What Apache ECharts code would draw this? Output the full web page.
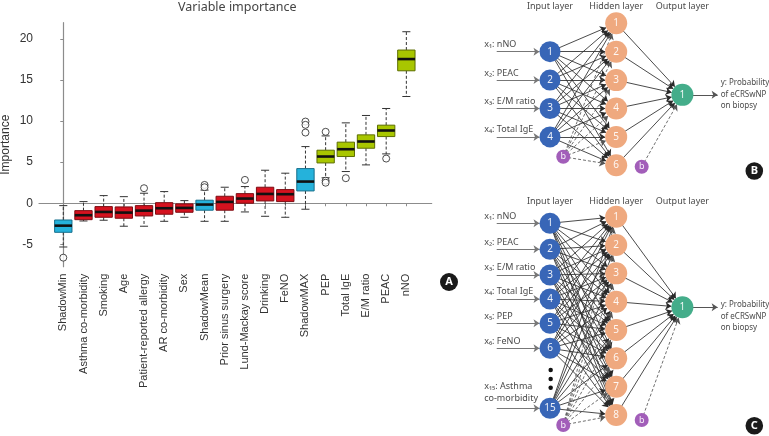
<!DOCTYPE html>
<html><head><meta charset="utf-8">
<script src="https://cdn.jsdelivr.net/npm/echarts@6/dist/echarts.min.js"></script>
<style>html,body{margin:0;padding:0;background:#fff}#c{width:769px;height:436px}</style>
</head><body><div id="c"></div>
<script>
// ---------- Panel A: variable importance boxplot ----------
const categories = ['ShadowMin','Asthma co-morbidity','Smoking','Age','Patient-reported allergy','AR co-morbidity','Sex','ShadowMean','Prior sinus surgery','Lund-Mackay score','Drinking','FeNO','ShadowMAX','PEP','Total IgE','E/M ratio','PEAC','nNO'];
const groups = ['shadow','rejected','rejected','rejected','rejected','rejected','rejected','shadow','rejected','rejected','rejected','rejected','shadow','confirmed','confirmed','confirmed','confirmed','confirmed'];
const whiskerLow  = [-5.33,-2.16,-2.07,-2.8,-2.8,-2.2,-1.71,-2.2,-2.2,-1.06,-1.59,-1.71,-0.73,3.1,3.86,4.67,6.01,13.0];
const q1          = [-3.54,-2.0,-1.71,-1.83,-1.55,-1.34,-1.1,-0.85,-0.85,0.0,0.28,0.2,1.5,4.91,5.69,6.7,8.12,16.13];
const median      = [-2.73,-1.46,-1.06,-1.14,-0.9,-0.61,-0.57,-0.16,0.16,0.57,1.13,1.1,2.64,5.69,6.58,7.52,8.86,17.56];
const q3          = [-2.04,-0.9,-0.41,-0.45,-0.29,0.07,-0.08,0.37,0.85,1.17,1.95,1.66,4.22,6.46,7.44,8.33,9.51,18.66];
const whiskerHigh = [-0.29,0.2,0.93,0.8,1.22,1.42,0.32,1.6,1.95,2.03,4.02,3.66,6.9,8.2,9.79,10.69,11.54,20.89];
const outliers = [[0,-6.63],[4,1.83],[7,2.23],[7,1.95],[9,2.84],[12,9.95],[12,9.55],[12,8.61],[13,8.7],[13,2.75],[13,2.5],[14,3.05],[16,5.44]];
const yTicks = [-5,0,5,10,15,20];
const groupColors = {shadow:'#25b2db', rejected:'#d5121f', confirmed:'#a8c600'};
const groupBorders = {shadow:'#176f8c', rejected:'#7d0c12', confirmed:'#5d6e00'};

// ---------- Panels B & C: network structure ----------
const headerNames = ['Input layer','Hidden layer','Output layer'];
const outputText = 'y: Probability\nof eCRSwNP\non biopsy';
// Panel B
const bInputRows = [1,2,3,4];
const bInputNames = ['1','2','3','4'];
const bInputLabels = ['x\u2081: nNO','x\u2082: PEAC','x\u2083: E/M ratio','x\u2084: Total IgE'];
const bHiddenRows = [0,1,2,3,4,5];
const bOutputRow = 2.52;
const bBias = [[0.2,4.7],[1.385,5.05]];
const bHeaderRow = -0.61;
// Panel C
const cInputRows = [0.233,1.151,2.058,2.905,3.763,4.645,6.763];
const cInputNames = ['1','2','3','4','5','6','15'];
const cInputLabels = ['x\u2081: nNO','x\u2082: PEAC','x\u2083: E/M ratio','x\u2084: Total IgE','x\u2085: PEP','x\u2086: FeNO','x\u2081\u2085: Asthma\nco-morbidity'];
const cHiddenRows = [0,1,2,3,4,5,6,7];
const cOutputRow = 3.198;
const cBias = [[0.2,7.353],[1.385,7.176]];
const cHeaderRow = -0.53;
const cDotRows = [5.411,5.729,6.036];

const nodeColors = {input:'#3866b7', hidden:'#efa97f', output:'#44ad8a', bias:'#a25eb9'};
const FONT = 'Noto Sans';

function buildNet(p, inputRows, inputNames, inputLabels, hiddenRows, outputRow, bias, headerRow, dotRows, outLabelDy) {
  const nodes = [], links = [];
  const numLabel = {show:true, position:'inside', color:'rgba(255,255,255,0.9)', fontSize:10, fontFamily:FONT};
  headerNames.forEach((h,k)=>nodes.push({id:p+'h'+k, name:h, value:[k, headerRow], symbolSize:1,
    itemStyle:{color:'rgba(0,0,0,0)'}, label:{show:true, position:'inside', color:'#4a4a4a', fontSize:9, fontFamily:FONT}}));
  inputRows.forEach((r,k)=>{
    const multi = inputLabels[k].indexOf('\n')>=0;
    nodes.push({id:p+'a'+k, name:inputLabels[k], value:[-0.805, r], symbolSize:1, itemStyle:{color:'rgba(0,0,0,0)'},
      label:{show:true, position:[-12, multi?-3:-0.5], align:'left', verticalAlign:'bottom', lineHeight:12.3, color:'#4a4a4a', fontSize:9, fontFamily:FONT}});
    nodes.push({id:p+'i'+k, name:inputNames[k], value:[0, r], symbolSize:21, itemStyle:{color:nodeColors.input}, label:numLabel});
    links.push({source:p+'a'+k, target:p+'i'+k, lineStyle:{color:'#777', width:1}});
  });
  hiddenRows.forEach((r,k)=>nodes.push({id:p+'n'+k, name:String(k+1), value:[1, r], symbolSize:22, itemStyle:{color:nodeColors.hidden}, label:numLabel}));
  nodes.push({id:p+'o', name:'1', value:[2, outputRow], symbolSize:22, itemStyle:{color:nodeColors.output}, label:numLabel});
  nodes.push({id:p+'oa', name:outputText, value:[2.54, outputRow], symbolSize:1, itemStyle:{color:'rgba(0,0,0,0)'},
    label:{show:true, position:[3, outLabelDy], align:'left', verticalAlign:'middle', lineHeight:11.7, color:'#4a4a4a', fontSize:8, fontFamily:FONT}});
  bias.forEach((b,k)=>nodes.push({id:p+'b'+k, name:'b', value:b, symbolSize:14, itemStyle:{color:nodeColors.bias},
    label:{show:true, position:'inside', color:'rgba(255,255,255,0.9)', fontSize:9, fontFamily:FONT}}));
  (dotRows||[]).forEach((r,k)=>nodes.push({id:p+'d'+k, name:'', value:[0.01, r], symbolSize:4.5, itemStyle:{color:'#111'}, label:{show:false}}));
  inputRows.forEach((r,k)=>hiddenRows.forEach((h,j)=>links.push({source:p+'i'+k, target:p+'n'+j})));
  hiddenRows.forEach((h,j)=>links.push({source:p+'b0', target:p+'n'+j, lineStyle:{type:[3,2], color:'#555'}}));
  hiddenRows.forEach((h,j)=>links.push({source:p+'n'+j, target:p+'o'}));
  links.push({source:p+'b1', target:p+'o', lineStyle:{type:[3,2], color:'#555'}});
  links.push({source:p+'o', target:p+'oa', lineStyle:{color:'#555', width:1}});
  return {nodes, links};
}
const netB = buildNet('B', bInputRows, bInputNames, bInputLabels, bHiddenRows, bOutputRow, bBias, bHeaderRow, null, 0);
const netC = buildNet('C', cInputRows, cInputNames, cInputLabels, cHiddenRows, cOutputRow, cBias, cHeaderRow, cDotRows, 9.5);

function graphSeries(net, idx) {
  return {type:'graph', coordinateSystem:'cartesian2d', xAxisIndex:idx, yAxisIndex:idx, layout:'none',
    silent:true, data:net.nodes, links:net.links, edgeSymbol:['none','arrow'], edgeSymbolSize:[0,6],
    lineStyle:{color:'#2a2a2a', width:0.85, opacity:1, curveness:0}, emphasis:{disabled:true}, z:3};
}

const boxData = categories.map((c,i)=>[i, whiskerLow[i], q1[i], median[i], q3[i], whiskerHigh[i]]);

function renderBox(params, api) {
  const i = api.value(0);
  const lo = api.value(1), a = api.value(2), m = api.value(3), b = api.value(4), hi = api.value(5);
  const bw = 0.43, cw = 0.2;
  const xc = api.coord([i, 0])[0];
  const xl = api.coord([i-bw, 0])[0], xr = api.coord([i+bw, 0])[0];
  const xcl = api.coord([i-cw, 0])[0], xcr = api.coord([i+cw, 0])[0];
  const yLo = api.coord([i, lo])[1], yA = api.coord([i, a])[1], yM = api.coord([i, m])[1], yB = api.coord([i, b])[1], yHi = api.coord([i, hi])[1];
  const g = groups[params.dataIndex];
  const ws = {stroke:'#333', lineWidth:1, lineDash:[3,2]};
  const cs = {stroke:'#333', lineWidth:1};
  return {type:'group', children:[
    {type:'line', shape:{x1:xc, y1:yB, x2:xc, y2:yHi}, style:ws},
    {type:'line', shape:{x1:xc, y1:yA, x2:xc, y2:yLo}, style:ws},
    {type:'line', shape:{x1:xcl, y1:yHi, x2:xcr, y2:yHi}, style:cs},
    {type:'line', shape:{x1:xcl, y1:yLo, x2:xcr, y2:yLo}, style:cs},
    {type:'rect', shape:{x:xl, y:yB, width:xr-xl, height:yA-yB}, style:{fill:groupColors[g], stroke:groupBorders[g], lineWidth:1}},
    {type:'line', shape:{x1:xl, y1:yM, x2:xr, y2:yM}, style:{stroke:'#111', lineWidth:2.6}}
  ]};
}

const catIdx = categories.map((c,i)=>i);
const chart = echarts.init(document.getElementById('c'), null, {renderer:'canvas'});
chart.setOption({
  animation:false,
  backgroundColor:'#fff',
  textStyle:{fontFamily:'Liberation Sans'},
  title:{text:'Variable importance', left:178, top:1, padding:0,
    textStyle:{fontSize:12.5, fontWeight:'normal', color:'#444', fontFamily:FONT}},
  grid:[
    {left:39, top:22.7, width:392.7, height:244, outerBoundsMode:'none', containLabel:false},
    {left:480, top:0, width:289, height:180, outerBoundsMode:'none', containLabel:false},
    {left:480, top:180, width:289, height:256, outerBoundsMode:'none', containLabel:false}
  ],
  xAxis:[
    {type:'value', gridIndex:0, min:-1.204, max:18.256,
      axisLine:{show:true, lineStyle:{color:'#8c8c8c', width:1.2}},
      axisTick:{show:true, customValues:catIdx, length:3, lineStyle:{color:'#8c8c8c'}},
      axisLabel:{show:true, customValues:catIdx, rotate:90, margin:7, fontSize:11, color:'#333',
        formatter:v=>categories[Math.round(v)]},
      splitLine:{show:false}},
    {type:'value', gridIndex:1, min:-1.0574, max:3.3082, show:false},
    {type:'value', gridIndex:2, min:-1.0574, max:3.3082, show:false}
  ],
  yAxis:[
    {type:'value', gridIndex:0, min:-7.73, max:21.99, name:'Importance', nameLocation:'middle', nameGap:27,
      nameMoveOverlap:false,
      nameTextStyle:{fontSize:12, color:'#333'},
      axisLine:{show:true, lineStyle:{color:'#8c8c8c', width:1.2}},
      axisTick:{show:true, customValues:yTicks, length:3, lineStyle:{color:'#8c8c8c'}},
      axisLabel:{show:true, customValues:yTicks, fontSize:12, color:'#333', margin:6},
      splitLine:{show:false}},
    {type:'value', gridIndex:1, inverse:true, min:-0.8204, max:5.5176, show:false},
    {type:'value', gridIndex:2, inverse:true, min:-1.2955, max:7.741, show:false}
  ],
  series:[
    {type:'custom', xAxisIndex:0, yAxisIndex:0, data:boxData, encode:{x:0, y:[1,2,3,4,5]}, renderItem:renderBox, silent:true},
    {type:'scatter', xAxisIndex:0, yAxisIndex:0, data:outliers, symbol:'circle', symbolSize:7,
      itemStyle:{color:'#fff', borderColor:'#222', borderWidth:1}, silent:true, z:3},
    graphSeries(netB, 1),
    graphSeries(netC, 2)
  ],
  graphic:[
    {type:'group', left:440, top:273, children:[
      {type:'circle', shape:{cx:9, cy:9, r:9}, style:{fill:'#1a1a1a'}},
      {type:'text', x:9, y:9, style:{text:'A', fill:'#fff', font:'bold 11px "Noto Sans"', align:'center', verticalAlign:'middle'}}]},
    {type:'group', left:745.5, top:162.2, children:[
      {type:'circle', shape:{cx:8.8, cy:8.8, r:8.8}, style:{fill:'#1a1a1a'}},
      {type:'text', x:8.8, y:8.8, style:{text:'B', fill:'#fff', font:'bold 11px "Noto Sans"', align:'center', verticalAlign:'middle'}}]},
    {type:'group', left:745.5, top:417, children:[
      {type:'circle', shape:{cx:8.8, cy:8.8, r:8.8}, style:{fill:'#1a1a1a'}},
      {type:'text', x:8.8, y:8.8, style:{text:'C', fill:'#fff', font:'bold 11px "Noto Sans"', align:'center', verticalAlign:'middle'}}]}
  ]
});
</script></body></html>
